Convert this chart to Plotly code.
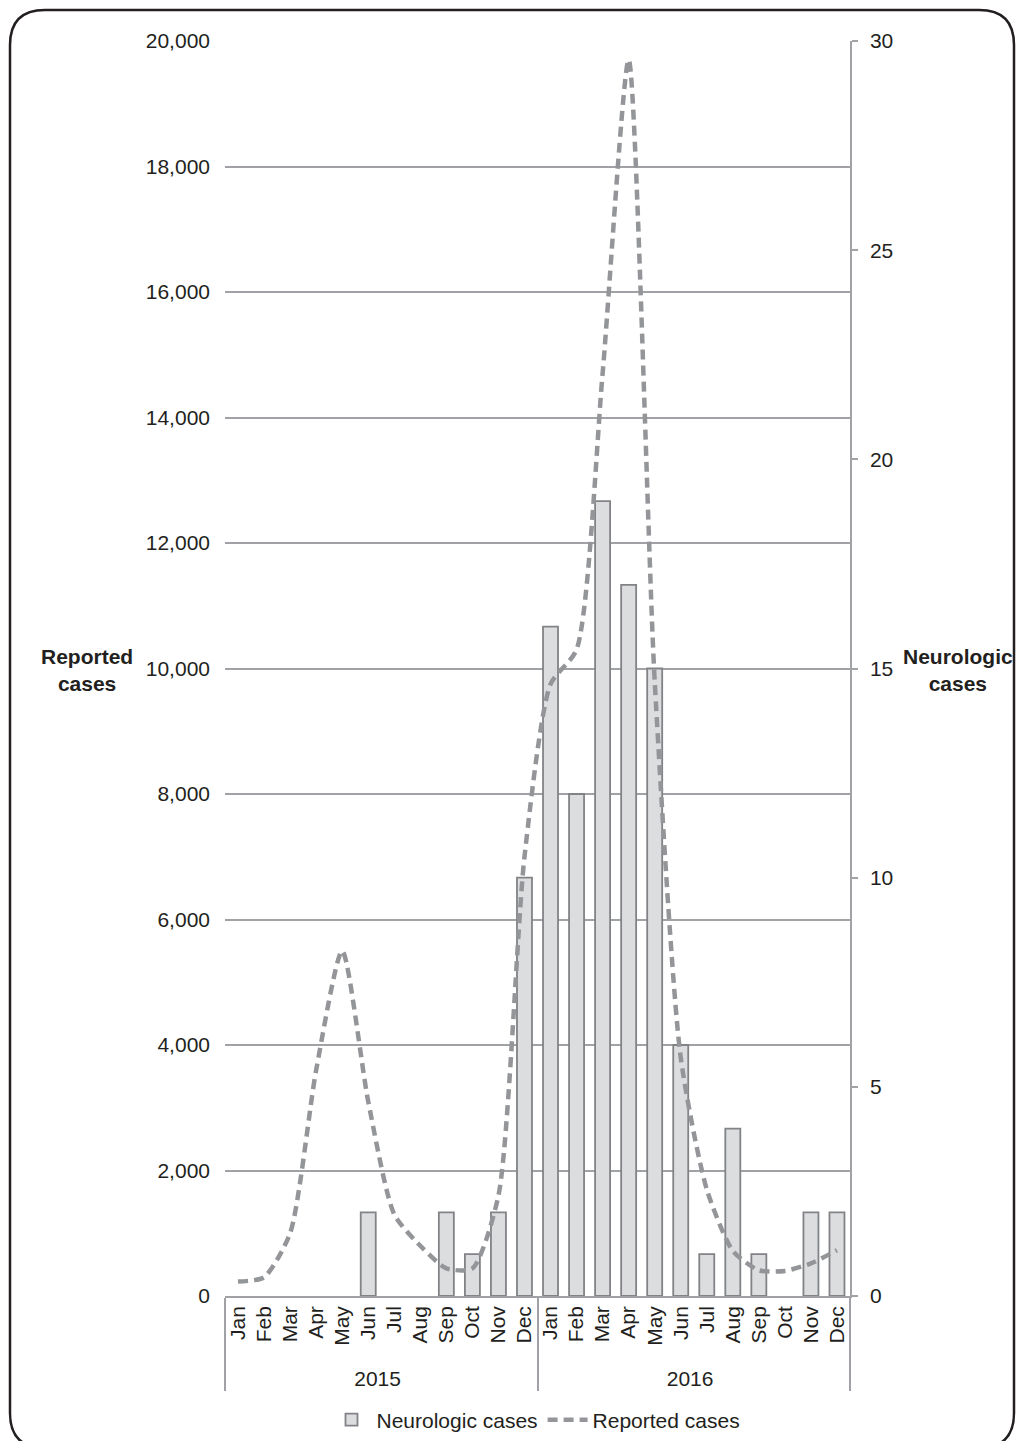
import plotly.graph_objects as go

years = ["2015"] * 12 + ["2016"] * 12
months = ["Jan", "Feb", "Mar", "Apr", "May", "Jun", "Jul", "Aug", "Sep", "Oct", "Nov", "Dec"] * 2
neurologic_cases = [0, 0, 0, 0, 0, 2, 0, 0, 2, 1, 2, 10,
                    16, 12, 19, 17, 15, 6, 1, 4, 1, 0, 2, 2]
reported_cases = [230, 300, 1000, 3600, 5500, 3100, 1300, 800, 440, 440, 1600, 7000,
                  9750, 10300, 14700, 19700, 9800, 3800, 1700, 720, 410, 400, 520, 730]

W, H = 1016, 1441
L, R, T, B = 225, 850, 41, 1296   # plot area in window pixels


def X(x):
    return x / W


def Y(y):
    return 1 - y / H


TXT = "#231f20"
GRID = "#a0a2a5"
FONT = "Arial, Liberation Sans, sans-serif"
FS = 21

fig = go.Figure()
fig.add_trace(go.Bar(
    x=[years, months], y=[v if v else None for v in neurologic_cases], name="Neurologic cases",
    marker=dict(color="#dcdddf", line=dict(color="#828386", width=1.8)),
    yaxis="y",
))
fig.add_trace(go.Scatter(
    x=[years, months], y=reported_cases, name="Reported cases",
    mode="lines", line=dict(color="#939598", width=4.5, dash="10px,6px",
                            shape="spline", smoothing=0.65),
    yaxis="y2",
))

# rounded border
x0, y0, x1, y1, r = 10, 10, 1014, 1448, 35
path = (f"M {X(x0 + r)},{Y(y0)} L {X(x1 - r)},{Y(y0)} "
        f"Q {X(x1)},{Y(y0)} {X(x1)},{Y(y0 + r)} "
        f"L {X(x1)},{Y(y1 - r)} Q {X(x1)},{Y(y1)} {X(x1 - r)},{Y(y1)} "
        f"L {X(x0 + r)},{Y(y1)} Q {X(x0)},{Y(y1)} {X(x0)},{Y(y1 - r)} "
        f"L {X(x0)},{Y(y0 + r)} Q {X(x0)},{Y(y0)} {X(x0 + r)},{Y(y0)} Z")

fig.update_layout(
    width=W, height=H, autosize=False,
    margin=dict(l=0, r=0, t=0, b=0, pad=0),
    paper_bgcolor="white", plot_bgcolor="white",
    font=dict(family=FONT, size=FS, color=TXT),
    bargap=0.424,
    showlegend=True,
    legend=dict(orientation="h", x=X(536), xanchor="center", y=Y(1420), yanchor="middle",
                font=dict(size=FS, color=TXT), itemwidth=40, traceorder="normal",
                bgcolor="rgba(0,0,0,0)"),
    xaxis=dict(type="multicategory", domain=[X(L), X(R)], showline=True, linecolor=GRID,
               linewidth=1.5, showgrid=False, ticks="", tickangle=-90,
               tickfont=dict(size=FS, color=TXT),
               showdividers=True, dividercolor=GRID, dividerwidth=1.5, automargin=False),
    yaxis=dict(side="right", domain=[Y(B), Y(T)], range=[0, 30], dtick=5, showgrid=False,
               showline=True, linecolor=GRID, linewidth=1.5, ticks="outside", ticklen=6,
               tickcolor=GRID, tickwidth=1.5, ticklabelstandoff=8,
               tickfont=dict(size=FS, color=TXT), zeroline=False, automargin=False),
    yaxis2=dict(side="left", overlaying="y", range=[0, 20000], dtick=2000, tickformat=",",
                showgrid=True, gridcolor=GRID, gridwidth=1.5, showline=False, ticks="",
                ticklabelstandoff=14, tickfont=dict(size=FS, color=TXT), zeroline=False,
                automargin=False),
    shapes=[dict(type="path", xref="paper", yref="paper", path=path,
                 line=dict(color="#231f20", width=2.5), layer="below")],
    annotations=[
        dict(text="<b>Reported<br>cases</b>", xref="paper", yref="paper", x=X(87), y=Y(670),
             xanchor="center", yanchor="middle", showarrow=False,
             font=dict(size=FS, color=TXT)),
        dict(text="<b>Neurologic<br>cases</b>", xref="paper", yref="paper", x=X(958), y=Y(670),
             xanchor="center", yanchor="middle", showarrow=False,
             font=dict(size=FS, color=TXT)),
    ],
)

fig.write_html(
    "out.html",
    config={"displayModeBar": False},
    post_script="document.body.style.margin='0px';document.body.style.overflow='hidden';",
)
